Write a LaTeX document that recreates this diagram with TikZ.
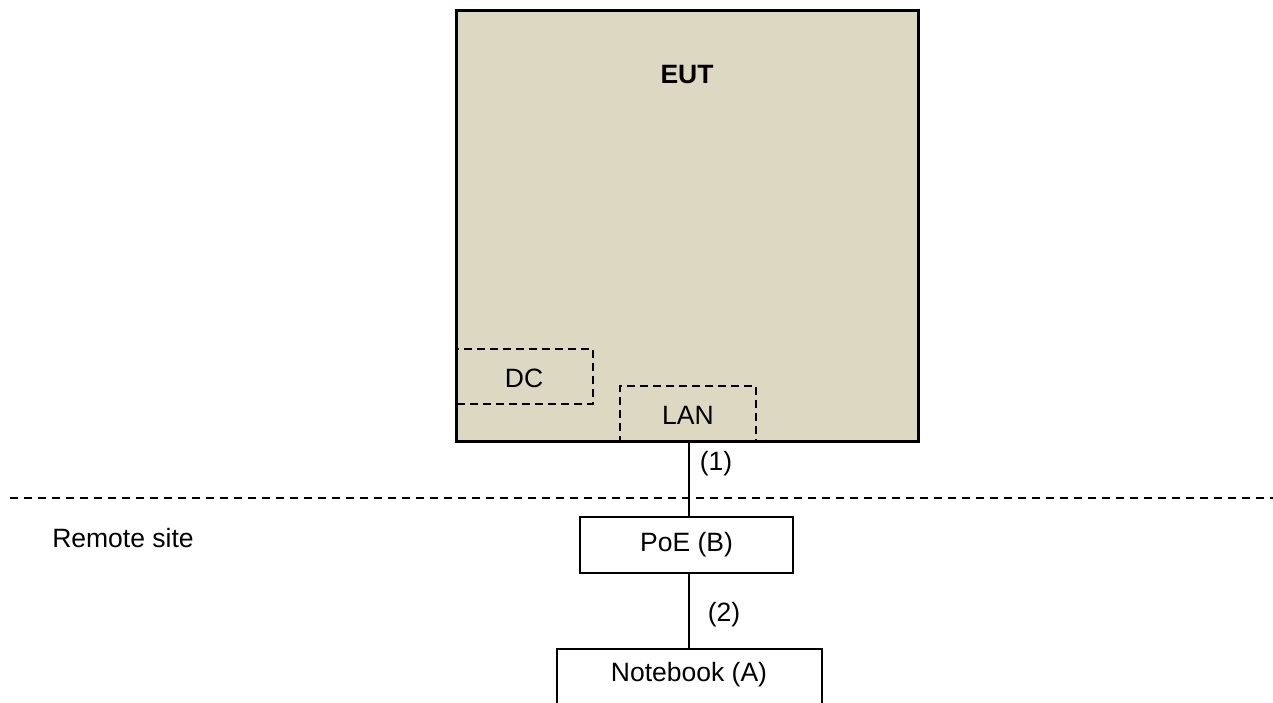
\documentclass[tikz,border=0pt]{standalone}
\usepackage{fontspec}
\setmainfont{Liberation Sans}
\begin{document}
\begin{tikzpicture}[x=1pt,y=-1pt,
  lw/.style={line width=1.8pt},
  box/.style={draw,lw,inner sep=0pt,font=\fontsize{26.5}{30}\selectfont},
  dbox/.style={draw,lw,inner sep=0pt,dash pattern=on 8pt off 5pt,font=\fontsize{26.5}{30}\selectfont},
  lbl/.style={inner sep=0pt,font=\fontsize{26.5}{30}\selectfont},
  conn/.style={lw}]
\clip (0,0) rectangle (1273,702);
\fill[white] (0,0) rectangle (1273,702);
% EUT
\node[box,fill={rgb,255:red,221;green,216;blue,194},minimum width=461pt,minimum height=430pt] (eut) at (687.5,226) {};
\node[lbl,font=\bfseries\fontsize{26.5}{30}\selectfont] (euttxt) at (687,75) {EUT};
\node[dbox,minimum width=136pt,minimum height=55pt] (dc) at (525,376.5) {};
\node[lbl] (dctxt) at (524,378) {DC};
\node[dbox,minimum width=136pt,minimum height=55pt] (lan) at (688,413.5) {};
\node[lbl] (lantxt) at (688,415) {LAN};
\draw[lw] (eut.north west) rectangle (eut.south east);
% separator
\coordinate (sepL) at (10,498);
\coordinate (sepR) at (1273,498);
\draw[lw,dash pattern=on 8pt off 6pt] (sepL) -- (sepR);
\node[lbl] (remote) at (123,538) {Remote site};
% PoE
\node[box,fill=white,minimum width=213pt,minimum height=56pt] (poe) at (686.5,545) {PoE (B)};
\node[box,fill=white,minimum width=265pt,minimum height=100pt] (nb) at (689.5,699) {};
\node[lbl] (nbtxt) at (689,675) {Notebook (A)};
% connectors
\draw[conn] (eut.south -| 689,0) -- (poe.north -| 689,0);
\draw[conn] (poe.south -| 689,0) -- (nb.north -| 689,0);
\node[lbl] (l1) at (716,464) {(1)};
\node[lbl] (l2) at (724,615) {(2)};
\end{tikzpicture}
\end{document}
